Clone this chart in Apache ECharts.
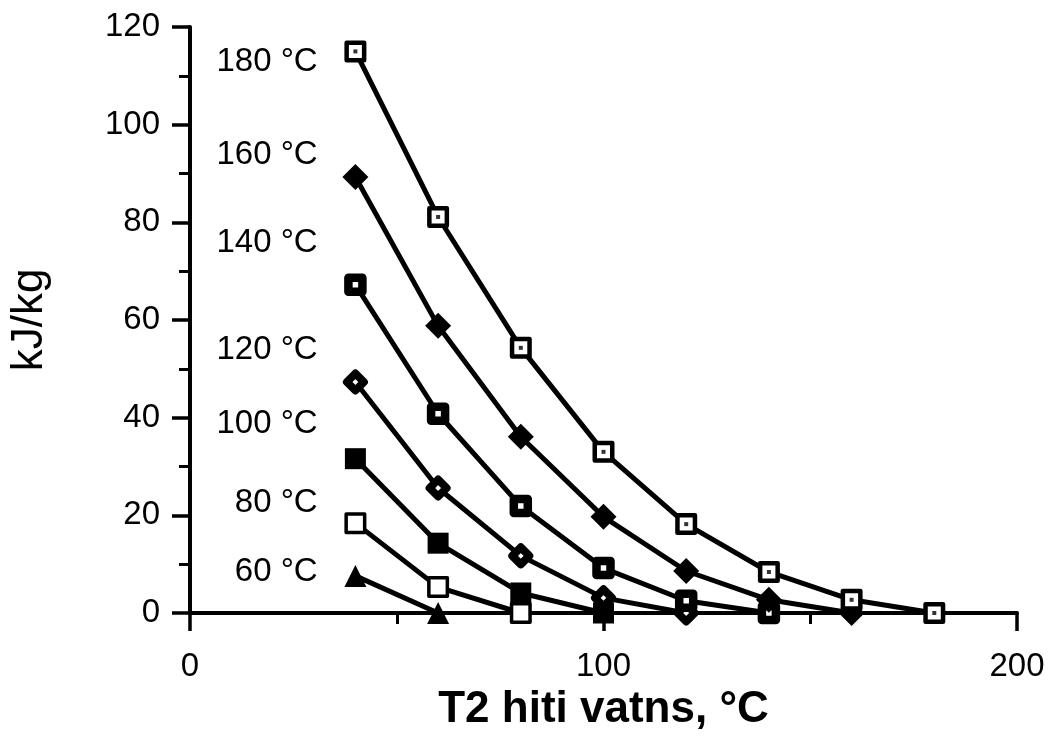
<!DOCTYPE html>
<html>
<head>
<meta charset="utf-8">
<script src="https://cdn.jsdelivr.net/npm/echarts@6/dist/echarts.min.js"></script>
<style>
html,body{margin:0;padding:0;background:#fff;}
#chart{width:1051px;height:740px;}
</style>
</head>
<body>
<div id="chart"></div>
<script>
// x values (T2 hiti vatns, °C)
const xs = [40, 60, 80, 100, 120, 140, 160, 180];
// kJ/kg for each inlet temperature curve
const s180 = [115, 81.1, 54.3, 33.0, 18.2, 8.4, 2.7, 0];
const s160 = [89.3, 58.8, 36.1, 19.7, 8.6, 2.7, 0];
const s140 = [67.2, 40.8, 21.9, 9.2, 2.5, 0];
const s120 = [47.3, 25.6, 11.7, 3.1, 0];
const s100 = [31.6, 14.3, 4.1, 0];
const s80 = [18.4, 5.3, 0];
const s60 = [7.6, 0];
// curve labels and their positions (data units)
const curveLabels = ['180 °C', '160 °C', '140 °C', '120 °C', '100 °C', '80 °C', '60 °C'];
const labelY = [112.9, 93.9, 75.8, 53.9, 38.7, 22.5, 8.4];
const labelX = 31;

function pts(arr){ return arr.map((v,i)=>[xs[i], v]); }

const FONT = '"Liberation Sans", Arial, Helvetica, sans-serif';
const LW = 5;

function lineSeries(name, arr, symbol, size, fill, border){
  return {
    name: name, type: 'line', data: pts(arr),
    symbol: symbol, symbolSize: size, showAllSymbol: true,
    lineStyle: {color: '#000', width: LW},
    itemStyle: {color: fill, borderColor: '#000', borderWidth: border, borderJoin: 'round'},
    z: 3, silent: true, animation: false
  };
}
function dotSeries(arr){
  return {
    type: 'scatter', data: pts(arr), symbol: 'rect', symbolSize: 4,
    itemStyle: {color: '#000'}, z: 5, silent: true, animation: false
  };
}

const chart = echarts.init(document.getElementById('chart'), null, {renderer: 'canvas'});
chart.setOption({
  backgroundColor: '#fff',
  animation: false,
  grid: {left: 188, right: 34, top: 27, bottom: 127, containLabel: false},
  xAxis: {
    type: 'value', min: 0, max: 200, interval: 100,
    name: 'T2 hiti vatns, °C', nameLocation: 'middle', nameGap: 63,
    nameTextStyle: {fontFamily: FONT, fontSize: 44, fontWeight: 'bold', color: '#000'},
    axisLine: {show: true, onZero: false, lineStyle: {color: '#000', width: 4}},
    axisTick: {show: true, inside: false, length: 18, lineStyle: {color: '#000', width: 3.5}},
    minorTick: {show: true, splitNumber: 2, length: 11, lineStyle: {color: '#000', width: 3}},
    axisLabel: {fontFamily: FONT, fontSize: 33, color: '#000', margin: 37},
    splitLine: {show: false}, minorSplitLine: {show: false}
  },
  yAxis: {
    type: 'value', min: 0, max: 120, interval: 20,
    name: 'kJ/kg', nameLocation: 'middle', nameGap: 138, nameRotate: 90,
    nameTextStyle: {fontFamily: FONT, fontSize: 44, color: '#000'},
    axisLine: {show: true, onZero: false, lineStyle: {color: '#000', width: 4}},
    axisTick: {show: true, inside: false, length: 18, lineStyle: {color: '#000', width: 3.5}},
    minorTick: {show: true, splitNumber: 2, length: 11, lineStyle: {color: '#000', width: 3}},
    axisLabel: {fontFamily: FONT, fontSize: 33, color: '#000', margin: 30},
    splitLine: {show: false}, minorSplitLine: {show: false}
  },
  series: [
    lineSeries('60 °C', s60, 'triangle', 22, '#000', 0),
    lineSeries('80 °C', s80, 'rect', 18.5, '#fff', 3.5),
    lineSeries('100 °C', s100, 'rect', 21, '#000', 0),
    lineSeries('120 °C', s120, 'diamond', 17, '#fff', 8),
    lineSeries('140 °C', s140, 'rect', 14, '#fff', 8.5),
    lineSeries('160 °C', s160, 'diamond', 26, '#000', 0),
    lineSeries('180 °C', s180, 'rect', 17.5, '#fff', 4.5),
    dotSeries(s180),
    {
      type: 'scatter', symbol: 'rect', symbolSize: 1, silent: true, animation: false, z: 1,
      data: curveLabels.map((t,i)=>({name: t, value: [labelX, labelY[i]]})),
      itemStyle: {color: '#fff', opacity: 1},
      label: {show: true, position: 'left', distance: 0, formatter: p => p.name,
        fontFamily: FONT, fontSize: 33, color: '#000', opacity: 1}
    }
  ]
});
</script>
</body>
</html>
